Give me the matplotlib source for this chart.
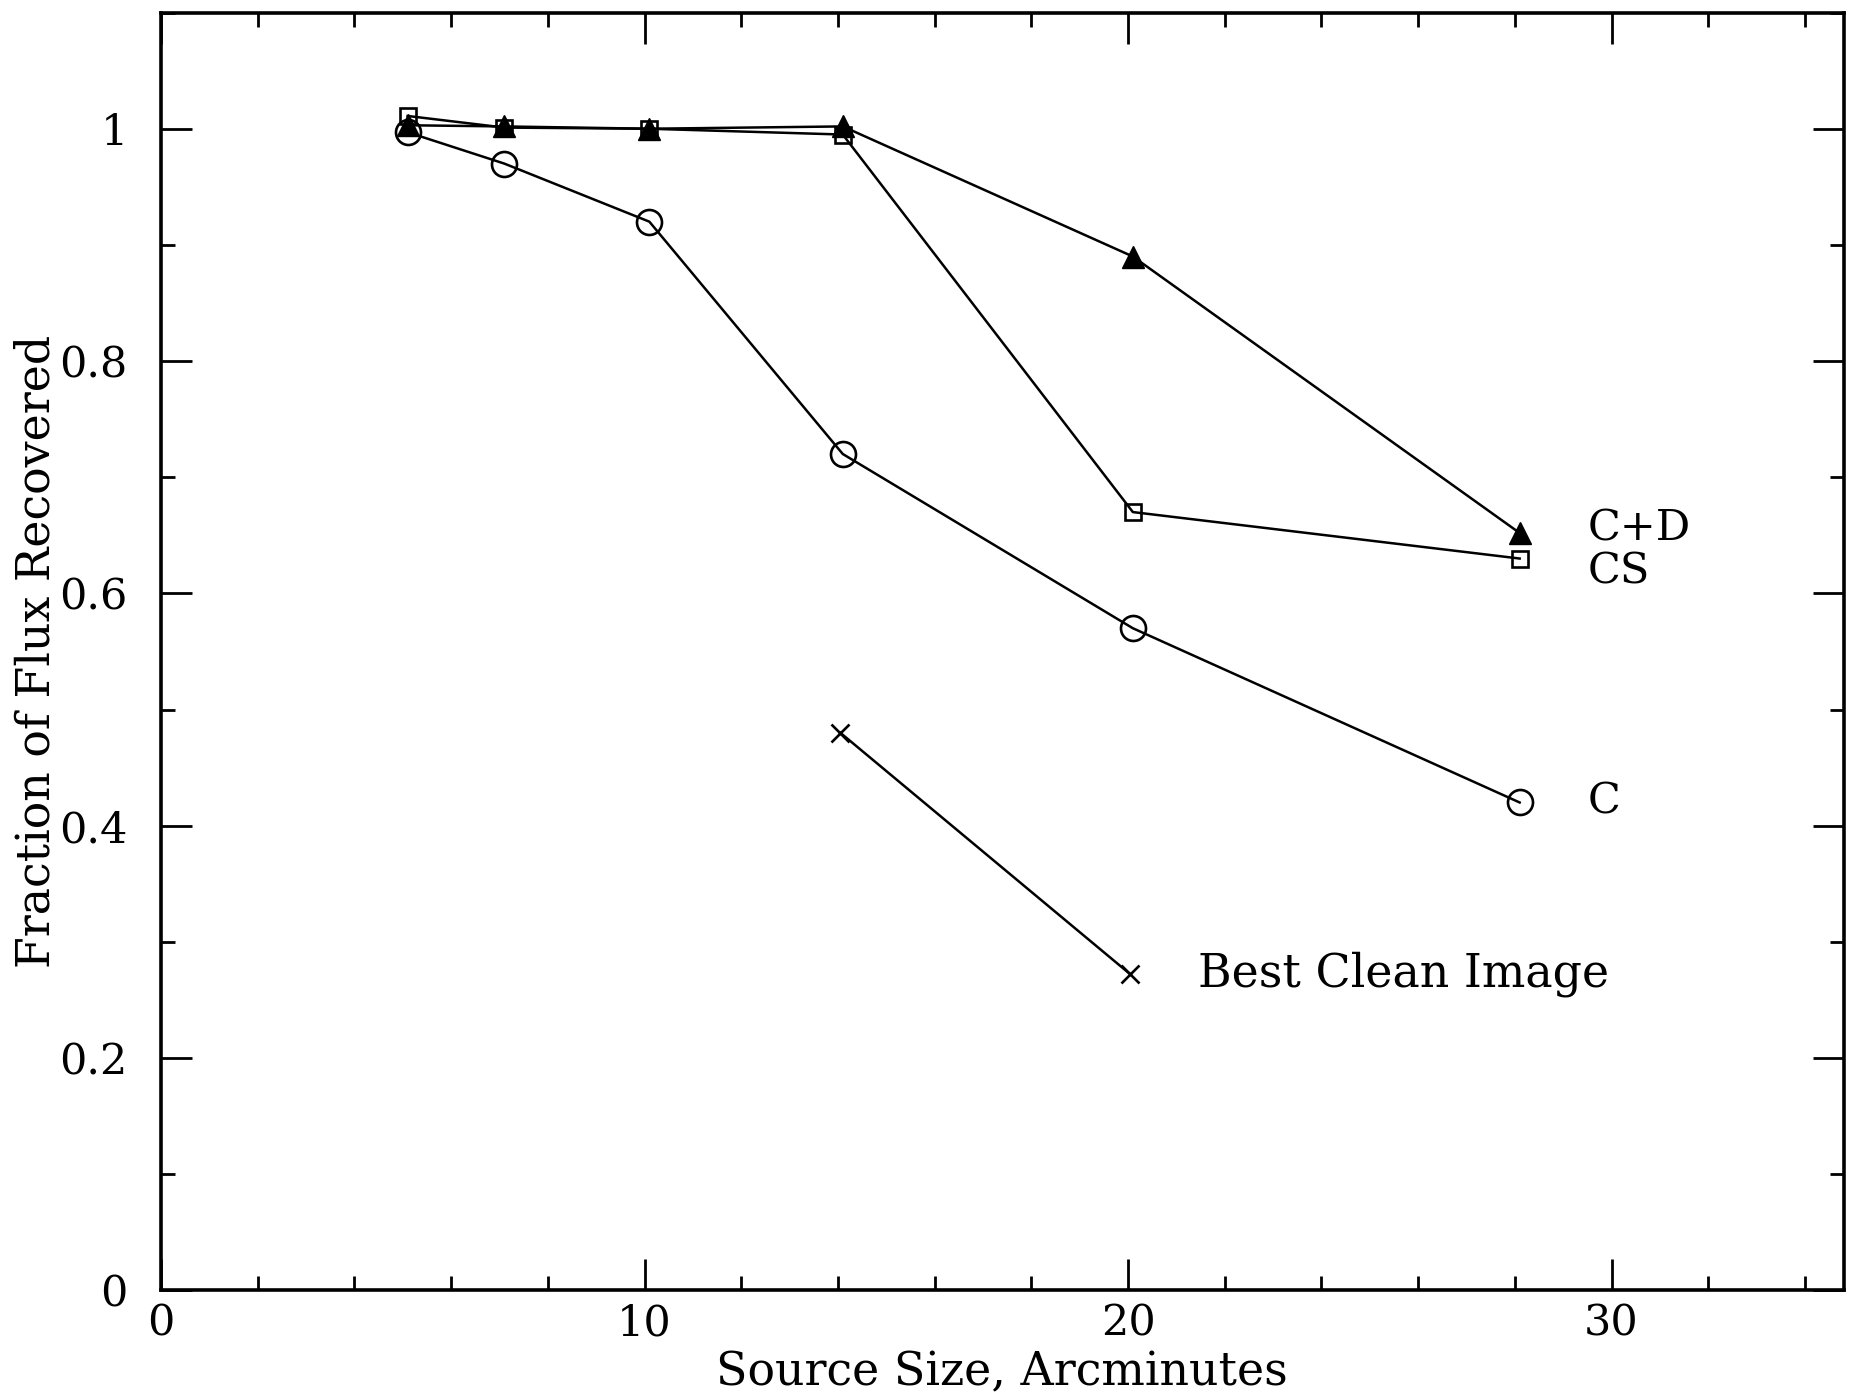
import matplotlib
matplotlib.use('Agg')
import matplotlib.pyplot as plt
from matplotlib.ticker import MultipleLocator, FixedLocator

plt.rcParams['font.family'] = 'DejaVu Serif'

# source size [arcmin]
size = [5.1, 7.1, 10.1, 14.1, 20.1, 28.1]

flux_c = [0.997, 0.970, 0.920, 0.720, 0.570, 0.420]
flux_cs = [1.011, 1.001, 1.000, 0.995, 0.670, 0.630]
flux_cd = [1.003, 1.002, 1.000, 1.002, 0.890, 0.652]

size_clean = [14.05, 20.05]
flux_clean = [0.480, 0.272]

ytick_vals = [0, 0.2, 0.4, 0.6, 0.8, 1.0]
ytick_labels = ['0', '0.2', '0.4', '0.6', '0.8', '1']
xtick_vals = [0, 10, 20, 30]

fig = plt.figure(figsize=(18.51, 13.98), dpi=100)
ax = fig.add_axes([0.087, 0.077, 0.909, 0.914])

ax.plot(size, flux_c, color='k', lw=1.8, marker='o', ms=18,
        mfc='none', mec='k', mew=1.9)
ax.plot(size, flux_cs, color='k', lw=1.8, marker='s', ms=12,
        mfc='none', mec='k', mew=1.9)
ax.plot(size, flux_cd, color='k', lw=1.8, marker='^', ms=16,
        mfc='k', mec='k')
ax.plot(size_clean, flux_clean, color='k', lw=1.8, marker='x', ms=13, mew=1.9)

ax.text(29.5, 0.656, 'C+D', fontsize=31, va='center', ha='left')
ax.text(29.5, 0.619, 'CS', fontsize=31, va='center', ha='left')
ax.text(29.5, 0.421, 'C', fontsize=31, va='center', ha='left')
ax.text(21.45, 0.272, 'Best Clean Image', fontsize=33, va='center', ha='left')

ax.set_xlim(0, 34.8)
ax.set_ylim(0, 1.1)
ax.xaxis.set_major_locator(FixedLocator(xtick_vals))
ax.xaxis.set_minor_locator(MultipleLocator(2))
ax.set_yticks(ytick_vals)
ax.set_yticklabels(ytick_labels)
ax.yaxis.set_minor_locator(MultipleLocator(0.1))

ax.tick_params(which='both', direction='in', top=True, right=True,
               labelsize=31, width=2)
ax.tick_params(which='major', length=22)
ax.tick_params(which='minor', length=10)
ax.tick_params(axis='y', pad=24)
ax.tick_params(axis='x', pad=9)
for s in ax.spines.values():
    s.set_linewidth(2.6)

ax.set_xlabel('Source Size, Arcminutes', fontsize=33, labelpad=4)
ax.set_ylabel('Fraction of Flux Recovered', fontsize=33, labelpad=0)

fig.savefig('out.png', dpi=100)
